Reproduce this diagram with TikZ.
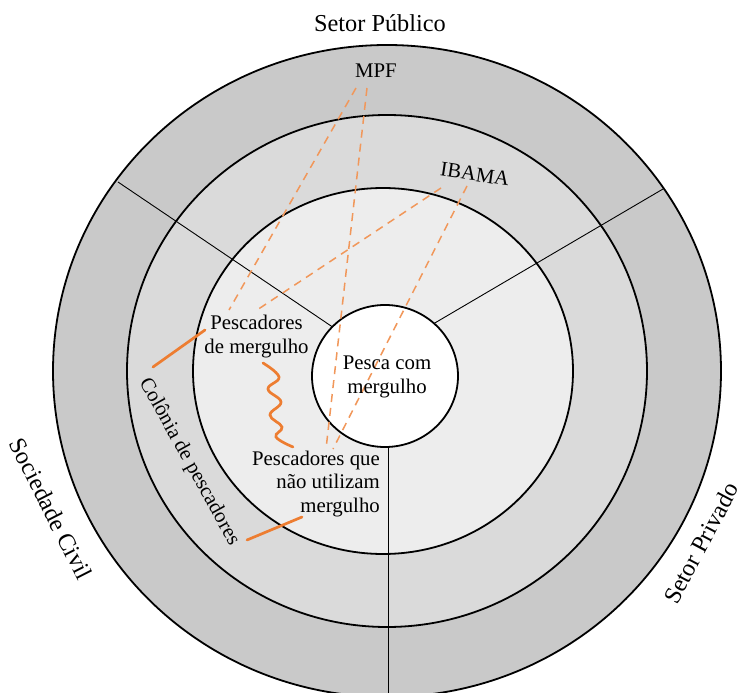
\documentclass[tikz,border=0pt]{standalone}
\usepackage{fontspec}
\setmainfont{Liberation Serif}
\usepackage{xcolor}
\usepackage{tikz}
\definecolor{orng}{RGB}{237,125,49}
\definecolor{ringa}{RGB}{201,201,201}
\definecolor{ringb}{RGB}{218,218,218}
\definecolor{ringc}{RGB}{237,237,237}
\tikzset{
    ring/.style = {draw=black, line width=1.8pt},
    spoke/.style = {draw=black, line width=0.9pt},
    lbl/.style = {align=center, inner sep=0pt, font=\fontsize{20.8}{23.4}\selectfont},
    sector/.style = {inner sep=0pt, font=\fontsize{24.3}{27}\selectfont},
}

\begin{document}
\begin{tikzpicture}[x=1pt, y=-1pt]
\tikzset{
    tie/.style = {orng, line width=2.7pt, line cap=round},
    link/.style = {orng!80, line width=1.5pt, dash pattern=on 8pt off 6pt}
}
\useasboundingbox (0,0) rectangle (740,693);
\clip (0,0) rectangle (740,693);
%
\draw[ring, fill=ringa] (387,371) ellipse [x radius=334, y radius=326];
\draw[ring, fill=ringb] (387,371) ellipse [x radius=260, y radius=256];
\draw[ring, fill=ringc] (383,371) ellipse [x radius=190, y radius=183];
%
\draw[spoke] (118,182) -- (340,332);
\draw[spoke] (663,189) -- (428,327);
\draw[spoke] (388,440) -- (388,700);
\draw[ring, fill=white] (385,376) ellipse [x radius=73, y radius=71];
%
\coordinate (m1) at (356,88);
\coordinate (m2) at (367,88);
\coordinate (i1) at (441,188);
\coordinate (i2) at (467,186);
\coordinate (p1) at (229,310);
\coordinate (p2) at (257,310);
\coordinate (q1) at (326,449);
\coordinate (q2) at (333,449);
\draw[link] (m1) -- (p1);
\draw[link] (m2) -- (q1);
\draw[link] (i1) -- (p2);
\draw[link] (i2) -- (q2);
%
\node[sector, anchor=base] (pub) at (380,32) {Setor Público};
\node[sector, rotate=-63] (civ) at (51,509) {Sociedade Civil};
\node[sector, rotate=62] (priv) at (701,543) {Setor Privado};
\node[lbl, anchor=base] (mpf) at (376,78) {MPF};
\node[lbl, anchor=base, rotate=-8.6] (ibama) at (474,181) {IBAMA};
\node[lbl, rotate=-61] (col) at (189,462) {Colônia de pescadores};
\node[lbl] (pdm) at (256.5,336.7) {Pescadores\\de mergulho};
\node[lbl] (pcm) at (387,377) {Pesca com\\mergulho};
\node[lbl, align=right, anchor=east] (pnm) at (380,484) {Pescadores que\\não utilizam\\mergulho};
%
\coordinate (c1) at (153,367);
\coordinate (c2) at (205,330);
\coordinate (c3) at (247,540);
\coordinate (c4) at (302,517);
\draw[tie] (c1) -- (c2);
\draw[tie] (c3) -- (c4);
\draw[tie] plot[smooth, tension=0.7] coordinates {(263,363) (279,377) (268,389) (281,402) (270,415) (282,427) (276,437) (293,447)};
\end{tikzpicture}
\end{document}
